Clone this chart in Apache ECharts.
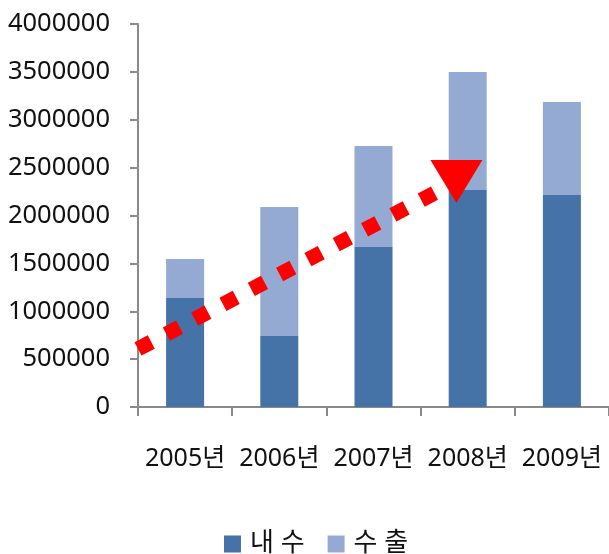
<!DOCTYPE html>
<html><head><meta charset="utf-8">
<script src="https://cdn.jsdelivr.net/npm/echarts@6/dist/echarts.min.js"></script>
<style>html,body{margin:0;padding:0;background:#fff}#c{width:609px;height:554px}</style>
</head><body><div id="c"></div>
<script>
const categories = ['2005년','2006년','2007년','2008년','2009년'];
const domestic = [1138000, 741000, 1671000, 2266000, 2214000];
const exports_ = [408000, 1348000, 1055000, 1233000, 971000];
const seriesNames = ['내 수', '수 출'];
const yTicks = {min: 0, max: 4000000, interval: 500000};
// trend arrow annotation: [category position, value]
const trendStart = [0, 606000];
const trendEnd = [3.38, 2355000];

const font = '"Noto Sans", "Noto Sans CJK KR", sans-serif';
const axisGray = '#898989';
const chart = echarts.init(document.getElementById('c'), null, {renderer: 'canvas'});
chart.setOption({
  animation: false,
  backgroundColor: '#fff',
  textStyle: {fontFamily: font},
  legend: {
    left: 219, top: 526,
    itemWidth: 17, itemHeight: 17, itemGap: 23,
    icon: 'rect',
    textStyle: {fontFamily: font, fontSize: 26, color: '#111', padding: [0,0,0,4]},
    data: seriesNames
  },
  grid: [{left: 138, top: 24, width: 474.5, height: 383, containLabel: false}],
  xAxis: [{
    type: 'category', data: categories, gridIndex: 0,
    axisLine: {lineStyle: {color: axisGray, width: 2}},
    axisTick: {show: true, length: 9, interval: 0, lineStyle: {color: axisGray, width: 2}},
    axisLabel: {fontFamily: font, fontSize: 25, color: '#111', margin: 39, interval: 0}
  }, {
    type: 'value', min: 0, max: 5, gridIndex: 0, show: false
  }],
  yAxis: [{
    type: 'value', min: yTicks.min, max: yTicks.max, interval: yTicks.interval, gridIndex: 0,
    axisLine: {show: true, lineStyle: {color: axisGray, width: 2}},
    axisTick: {show: true, length: 8, lineStyle: {color: axisGray, width: 2}},
    splitLine: {show: false},
    axisLabel: {fontFamily: font, fontSize: 25.5, color: '#111', margin: 28, formatter: v => String(v)}
  }],
  series: [{
    name: seriesNames[0], type: 'bar', stack: 's', data: domestic, barWidth: 38,
    itemStyle: {color: '#4572A7'}
  }, {
    name: seriesNames[1], type: 'bar', stack: 's', data: exports_, barWidth: 38,
    itemStyle: {color: '#95AAD2'}
  }, {
    name: 'trend', type: 'line', xAxisIndex: 1, yAxisIndex: 0,
    data: [
      {value: trendStart, symbol: 'none'},
      {value: trendEnd, symbol: 'triangle', symbolSize: [52, 43], symbolRotate: 180}
    ],
    showSymbol: true,
    lineStyle: {color: '#FF0000', width: 15, type: [15, 17], cap: 'butt'},
    itemStyle: {color: '#FF0000'},
    z: 5, silent: true, legendHoverLink: false
  }]
});
</script></body></html>
